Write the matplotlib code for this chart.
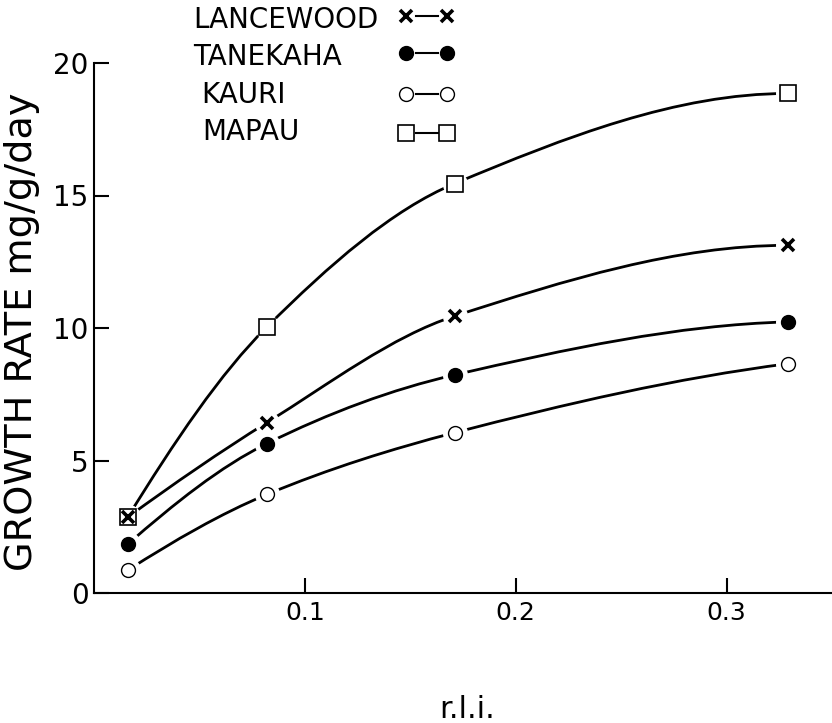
#!/usr/bin/env python3
"""Growth rate of four seedling species against relative light intensity (r.l.i.)."""

import numpy as np
import matplotlib
matplotlib.use("Agg")
import matplotlib.pyplot as plt
from matplotlib.path import Path
from matplotlib.patches import PathPatch

plt.rcParams.update({
    'font.family': 'DejaVu Sans',
    'axes.linewidth': 1.5,
})

# values
rli = [0.016, 0.082, 0.171, 0.329]
lancewood = [2.86, 6.43, 10.45, 13.12]
tanekaha = [1.84, 5.64, 8.23, 10.23]
kauri = [0.86, 3.72, 6.05, 8.65]
mapau = [2.86, 10.04, 15.45, 18.85]

species = ['LANCEWOOD', 'TANEKAHA', 'KAURI', 'MAPAU']
x_ticks = [0.1, 0.2, 0.3]
x_ticklabels = ['0.1', '0.2', '0.3']
y_ticks = [0, 5, 10, 15, 20]

styles = {
    'LANCEWOOD': dict(marker='x', ms=9, mew=2.6, mfc='black', mec='black'),
    'TANEKAHA': dict(marker='o', ms=10, mew=1.0, mfc='black', mec='black'),
    'KAURI': dict(marker='o', ms=10, mew=1.0, mfc='white', mec='black'),
    'MAPAU': dict(marker='s', ms=12, mew=1.2, mfc='white', mec='black'),
}


def smooth_path(x, y):
    # hand-drawn looking curve: monotone cubic tangents turned into bezier handles
    x = np.asarray(x, float)
    y = np.asarray(y, float)
    h = np.diff(x)
    d = np.diff(y) / h
    m = np.zeros_like(y)
    for i in range(1, len(x) - 1):
        if d[i - 1] * d[i] > 0:
            w1 = 2 * h[i] + h[i - 1]
            w2 = h[i] + 2 * h[i - 1]
            m[i] = (w1 + w2) / (w1 / d[i - 1] + w2 / d[i])

    def end_slope(h0, h1, d0, d1):
        v = ((2 * h0 + h1) * d0 - h0 * d1) / (h0 + h1)
        if np.sign(v) != np.sign(d0):
            v = 0.0
        return v

    m[0] = end_slope(h[0], h[1], d[0], d[1])
    m[-1] = end_slope(h[-1], h[-2], d[-1], d[-2])

    verts = [(x[0], y[0])]
    codes = [Path.MOVETO]
    for i in range(len(x) - 1):
        verts += [(x[i] + h[i] / 3, y[i] + m[i] * h[i] / 3),
                  (x[i + 1] - h[i] / 3, y[i + 1] - m[i + 1] * h[i] / 3),
                  (x[i + 1], y[i + 1])]
        codes += [Path.CURVE4] * 3
    return Path(verts, codes)


fig = plt.figure(figsize=(8.32, 7.23), dpi=100)
ax = fig.add_axes([94 / 832, 130 / 723, 738 / 832, 530 / 723])

series = {'LANCEWOOD': lancewood, 'TANEKAHA': tanekaha, 'KAURI': kauri, 'MAPAU': mapau}

for name in species:
    vals = series[name]
    ax.add_patch(PathPatch(smooth_path(rli, vals), fill=False, lw=2.0,
                           edgecolor='black', zorder=2, capstyle='butt'))
    # white halo so the curve stops short of each point
    ax.plot(rli, vals, ls='none', marker='o', ms=18, mfc='white', mec='none', zorder=3)

for name in ['MAPAU', 'KAURI', 'TANEKAHA', 'LANCEWOOD']:
    ax.plot(rli, series[name], ls='none', zorder=4, **styles[name])

ax.set_xlim(0, 0.35)
ax.set_ylim(0, 20)
ax.set_xticks(x_ticks)
ax.set_xticklabels(x_ticklabels)
ax.set_yticks(y_ticks)
ax.tick_params(axis='x', direction='in', length=11, width=1.5, labelsize=18, pad=6)
ax.tick_params(axis='y', direction='in', length=11, width=1.5, labelsize=20, pad=4)
ax.spines['top'].set_visible(False)
ax.spines['right'].set_visible(False)

fig.text(22 / 832, 1 - 332 / 723, 'GROWTH RATE mg/g/day', rotation=90,
         fontsize=27.5, ha='center', va='center')
fig.text(467 / 832, 1 - 718 / 723, 'r.l.i.', fontsize=22, ha='center', va='baseline')

# key in the top of the figure, drawn in pixel space
key = fig.add_axes([0, 0, 1, 1], facecolor='none')
key.set_xlim(0, 832)
key.set_ylim(723, 0)
key.axis('off')

key_text_x = [193, 193, 201, 202]
key_base_y = [28, 65, 103, 140]
key_mark_y = [16, 53, 94, 133]
for name, tx, ty, my in zip(species, key_text_x, key_base_y, key_mark_y):
    key.text(tx, ty, name, fontsize=20, ha='left', va='baseline')
    key.plot([416, 438], [my, my], color='black', lw=1.5)
    key.plot([406, 447], [my, my], ls='none', **styles[name])

fig.savefig('out.png', dpi=100)
